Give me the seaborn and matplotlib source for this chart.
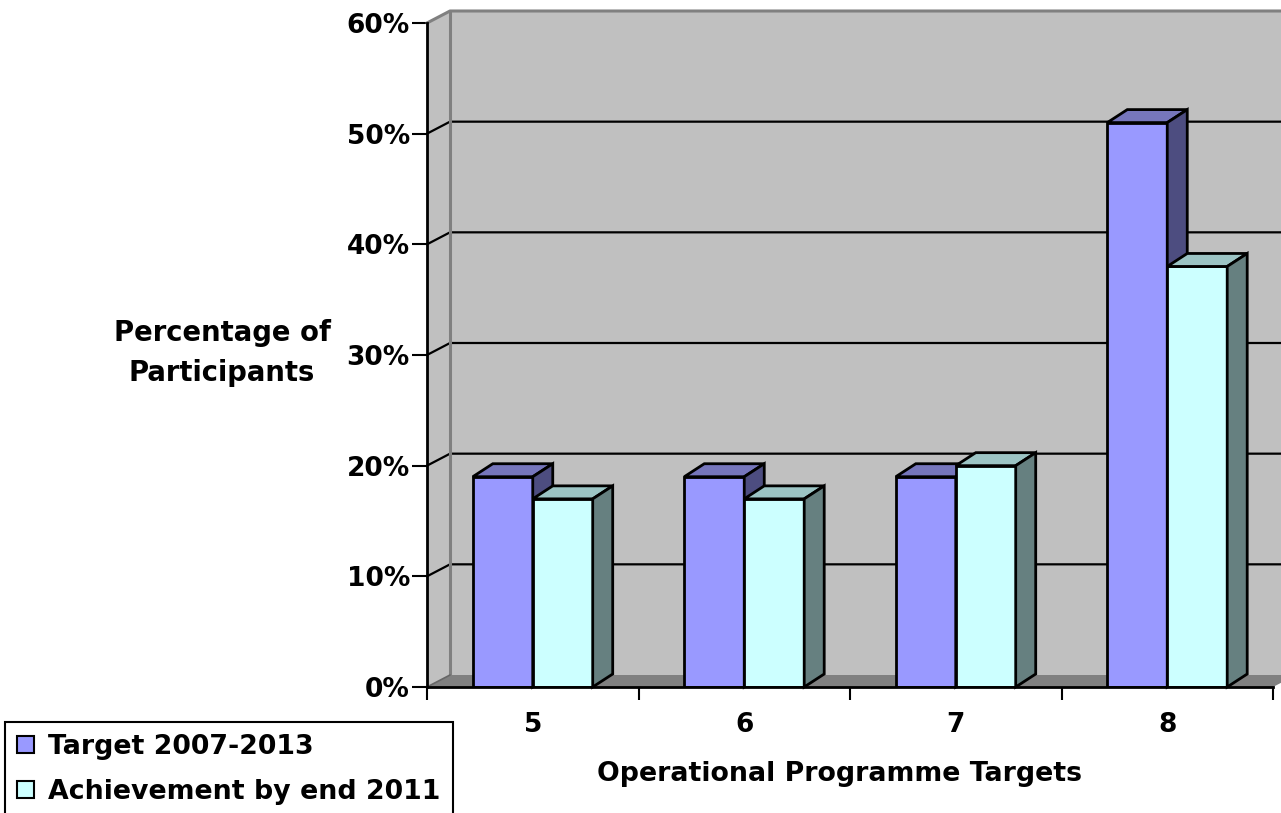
import matplotlib
matplotlib.use("Agg")
import matplotlib.pyplot as plt
from matplotlib.patches import Polygon, Patch
import numpy as np
import pandas as pd
import seaborn as sns

# ---- data ----
categories = ["5", "6", "7", "8"]
target_2007_2013 = [19, 19, 19, 51]
achievement_2011 = [17, 17, 20, 38]
series_names = ["Target 2007-2013", "Achievement by end 2011"]
y_ticks = [0, 10, 20, 30, 40, 50, 60]

df = pd.DataFrame({
    "Operational Programme Targets": categories * 2,
    "Percentage": target_2007_2013 + achievement_2011,
    "Series": [series_names[0]] * len(categories) + [series_names[1]] * len(categories),
})

# ---- styling ----
FRONT = ["#9999FF", "#CCFFFF"]
TOP = ["#7676BC", "#9CC4C4"]
SIDE = ["#4D4D80", "#668080"]
WALL = "#C0C0C0"
FLOOR = "#808080"
EDGE_GRAY = "#808080"

sns.set_theme(style="white", rc={
    "text.color": "black", "axes.labelcolor": "black",
    "xtick.color": "black", "ytick.color": "black",
})
plt.rcParams["font.family"] = ["DejaVu Sans"]
plt.rcParams["font.weight"] = "bold"
plt.rcParams["axes.labelweight"] = "bold"

W, H = 1281, 813
fig = plt.figure(figsize=(W / 100, H / 100), dpi=100)
fig.patch.set_facecolor("white")
ax = fig.add_axes([427 / W, (H - 687) / H, 846 / W, 664 / H])
ax.patch.set_visible(False)

sns.barplot(data=df, x="Operational Programme Targets", y="Percentage", hue="Series",
            palette=FRONT, saturation=1, width=0.567, edgecolor="black",
            linewidth=2, legend=False, ax=ax)

x_lo, x_hi = -0.5, len(categories) - 0.5
y_top = y_ticks[-1]
ax.set_xlim(x_lo, x_hi)
ax.set_ylim(0, y_top)


def px_to_data(dx_px, dy_px):
    ox, oy = ax.transData.transform((0, 0))
    return tuple(ax.transData.inverted().transform((ox + dx_px, oy + dy_px)))


# ---- 3D-style walls and floor ----
wdx, wdy = px_to_data(23, 12)
ax.add_patch(Polygon([(x_lo + wdx, wdy), (x_hi + wdx, wdy), (x_hi + wdx, y_top + wdy),
                      (x_lo + wdx, y_top + wdy)], closed=True, fc=WALL, ec="none",
                     clip_on=False, zorder=0.2))
ax.add_patch(Polygon([(x_lo, 0), (x_lo, y_top), (x_lo + wdx, y_top + wdy), (x_lo + wdx, wdy)],
                     closed=True, fc=WALL, ec="none", clip_on=False, zorder=0.2))
ax.add_patch(Polygon([(x_lo, 0), (x_hi, 0), (x_hi + wdx, wdy), (x_lo + wdx, wdy)],
                     closed=True, fc=FLOOR, ec="none", clip_on=False, zorder=0.3))

for yv in y_ticks[1:-1]:
    ax.plot([x_lo, x_lo + wdx, x_hi + wdx], [yv, yv + wdy, yv + wdy], color="black",
            lw=1.6, clip_on=False, zorder=1)

ax.plot([x_lo, x_lo + wdx, x_hi + wdx], [y_top, y_top + wdy, y_top + wdy], color=EDGE_GRAY,
        lw=2.2, clip_on=False, zorder=1)
ax.plot([x_lo + wdx, x_lo + wdx], [wdy, y_top + wdy], color=EDGE_GRAY, lw=2.2,
        clip_on=False, zorder=1)
ax.plot([x_lo, x_lo + wdx], [0, wdy], color="#666666", lw=1.2, clip_on=False, zorder=1)

# ---- 3D-style bar tops and sides ----
bdx, bdy = px_to_data(20, 13)
for i, cont in enumerate(ax.containers):
    z = 3 + i
    for bar in cont:
        bar.set_zorder(z)
        x0 = bar.get_x()
        x1 = x0 + bar.get_width()
        h = bar.get_height()
        ax.add_patch(Polygon([(x0, h), (x1, h), (x1 + bdx, h + bdy), (x0 + bdx, h + bdy)],
                             closed=True, fc=TOP[i], ec="black", lw=2, zorder=z,
                             clip_on=False))
        ax.add_patch(Polygon([(x1, 0), (x1, h), (x1 + bdx, h + bdy), (x1 + bdx, bdy)],
                             closed=True, fc=SIDE[i], ec="black", lw=2, zorder=z,
                             clip_on=False))

# ---- axes, ticks, labels ----
for s in ["top", "right"]:
    ax.spines[s].set_visible(False)
for s in ["left", "bottom"]:
    ax.spines[s].set_color("black")
    ax.spines[s].set_linewidth(2)
    ax.spines[s].set_zorder(6)

ax.set_yticks(y_ticks, labels=[f"{v}%" for v in y_ticks])
ax.set_xticks(range(len(categories)), labels=categories)
ax.set_xticks(np.arange(x_lo, x_hi + 0.01, 1), minor=True)
ax.tick_params(axis="x", which="major", length=0, pad=18, labelsize=19, bottom=True)
ax.tick_params(axis="x", which="minor", length=9.4, width=1.5, direction="out", bottom=True)
ax.tick_params(axis="y", which="major", length=10.8, width=1.5, direction="out", pad=1.5,
               labelsize=19, left=True)
for lab in ax.get_xticklabels() + ax.get_yticklabels():
    lab.set_fontweight("bold")

ax.set_xlabel("Operational Programme Targets", fontsize=19.3, fontweight="bold")
ax.xaxis.set_label_coords(0.4876, -0.1114)
ax.set_ylabel("Percentage of\nParticipants", rotation=0, fontsize=19.8, fontweight="bold",
              ha="center", va="center", multialignment="center", linespacing=1.55)
ax.yaxis.set_label_coords(-0.2423, 0.503)

# ---- legend ----
handles = [Patch(facecolor=FRONT[i], edgecolor="black", linewidth=1.5) for i in range(2)]
leg = fig.legend(handles, series_names, loc="upper left",
                 bbox_to_anchor=(5 / W, 1 - 722 / H), bbox_transform=fig.transFigure,
                 frameon=True, fancybox=False, shadow=False, framealpha=1,
                 edgecolor="black", prop={"weight": "bold", "size": 19.3},
                 handlelength=0.62, handleheight=0.62, handletextpad=0.55,
                 labelspacing=0.7, borderpad=0.45, borderaxespad=0)
leg.get_frame().set_linewidth(1.5)

fig.savefig("out.png", dpi=100, facecolor="white")
